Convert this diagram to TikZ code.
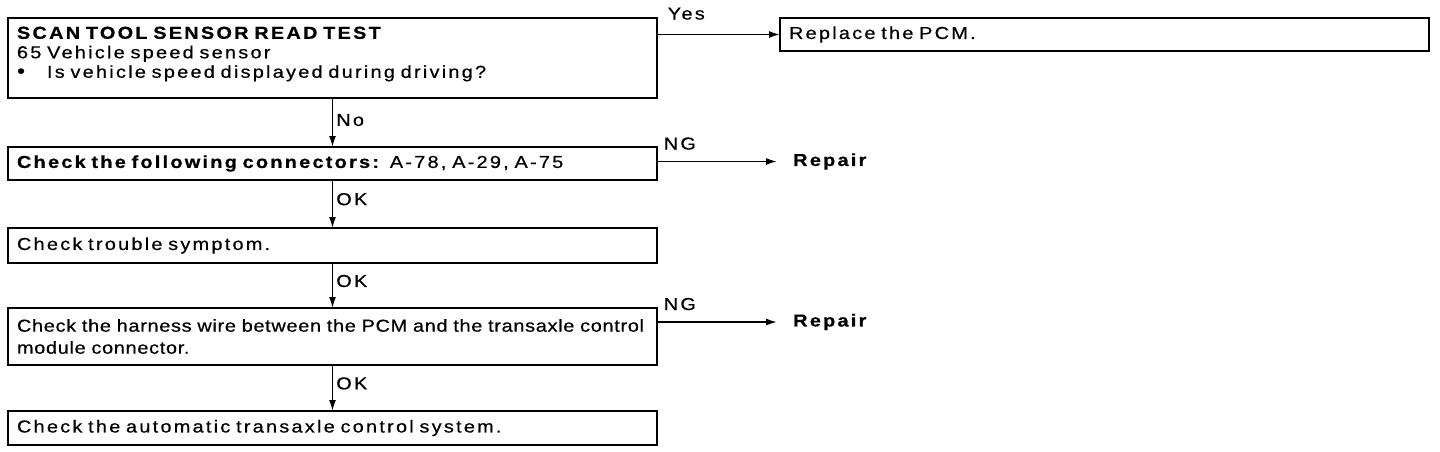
\documentclass[tikz,border=0pt]{standalone}
\usepackage{fontspec}
\setmainfont[FakeStretch=1.15,LetterSpace=13,FakeBold=0.6]{Liberation Sans}
\newfontfamily\tightfont[FakeStretch=1.15,LetterSpace=4,WordSpace=0.3,FakeBold=0.6]{Liberation Sans}
\usetikzlibrary{arrows.meta, positioning}

\begin{document}
\begin{tikzpicture}[
    x=1pt, y=-1pt,
    node distance=47pt and 120pt,
    box/.style={draw, line width=1.7pt, outer sep=0pt, text width=631pt, inner xsep=9pt, inner ysep=0pt, align=left, font=\fontsize{17.3}{19.5}\selectfont},
    result/.style={box, minimum height=33pt},
    lbl/.style={font=\fontsize{17.3}{20}\selectfont, inner sep=2pt},
    arrow/.style={-{Latex[length=11pt, width=7pt]}, line width=1.6pt}
]
    \useasboundingbox (0,0) rectangle (1440,452);

    \node[box, minimum height=80pt, anchor=north west] (scan) at (8,18)
        {\textbf{SCAN TOOL SENSOR READ TEST}\\
         65 Vehicle speed sensor\\
         \makebox[30pt][l]{\fontsize{20}{19.5}\selectfont\textbullet}Is vehicle speed displayed during driving?\\[-8pt]\mbox{}};
    \node[box, minimum height=33pt, below=49pt of scan] (conn)
        {\textbf{Check the following connectors:} A-78, A-29, A-75};
    \node[box, minimum height=35pt, below=48pt of conn] (symptom)
        {Check trouble symptom.};
    \node[box, minimum height=57pt, font=\fontsize{17.3}{22}\selectfont, below=45pt of symptom] (harness)
        {\tightfont\mbox{Check the harness wire between the PCM and the transaxle control}\\ module connector.};
    \node[box, minimum height=34pt, below=46pt of harness] (system)
        {Check the automatic transaxle control system.};

    \node[result, right=123pt of scan.north east, anchor=north west] (pcm)
        {Replace the PCM.};
    \node[lbl, right=120pt of conn.east, anchor=west, yshift=2pt, inner xsep=16pt] (repair1)
        {\textbf{Repair}};
    \node[lbl, right=120pt of harness.north east, anchor=west, yshift=-14pt, inner xsep=16pt] (repair2)
        {\textbf{Repair}};

    \draw[arrow] (pcm.west -| scan.east) -- (pcm.west)
        node[lbl, pos=0, anchor=south west, xshift=8pt, yshift=12pt] {Yes};
    \draw[arrow] (scan) -- (conn)
        node[lbl, pos=0.45, right, xshift=1pt] {No};
    \draw[arrow] (repair1.west -| conn.east) -- (repair1.west)
        node[lbl, pos=0, anchor=south west, xshift=4pt, yshift=9pt] {NG};
    \draw[arrow] (conn) -- (symptom)
        node[lbl, pos=0.4, right, xshift=1pt] {OK};
    \draw[arrow] (symptom) -- (harness)
        node[lbl, pos=0.4, right, xshift=1pt] {OK};
    \draw[arrow] (repair2.west -| harness.east) -- (repair2.west)
        node[lbl, pos=0, anchor=south west, xshift=4pt, yshift=9pt] {NG};
    \draw[arrow] (harness) -- (system)
        node[lbl, pos=0.4, right, xshift=1pt] {OK};
\end{tikzpicture}
\end{document}
